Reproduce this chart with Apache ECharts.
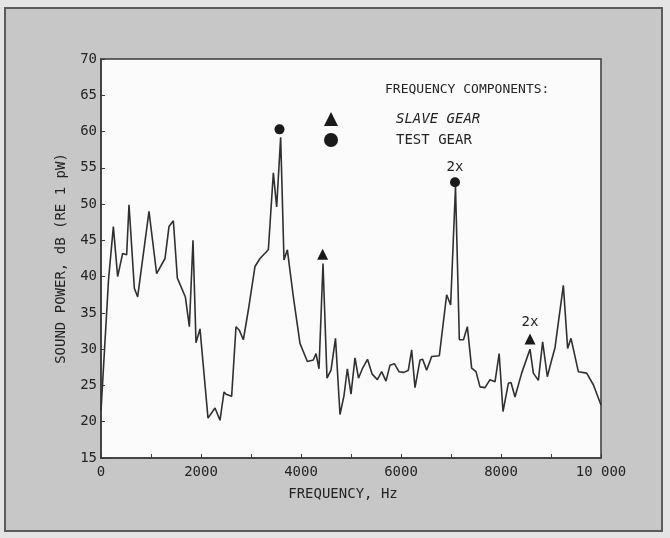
<!DOCTYPE html>
<html>
<head>
<meta charset="utf-8">
<script src="https://cdn.jsdelivr.net/npm/echarts@6/dist/echarts.min.js"></script>
<style>
  html, body { margin: 0; padding: 0; background: #e4e4e4; }
  #chart { width: 670px; height: 538px; }
</style>
</head>
<body>
<div id="chart"></div>
<script>
// Sound power spectrum of the gear pair, 0 - 10 000 Hz
const freqHz = [0, 150, 247, 333, 433, 513, 560, 667, 733, 960, 1113, 1280, 1360, 1447, 1527, 1687, 1767, 1840, 1900, 1980,
  2140, 2280, 2380, 2460, 2500, 2613, 2700, 2767, 2847, 2947, 3080, 3180, 3347, 3447, 3513, 3593, 3660, 3727, 3847, 3980,
  4127, 4247, 4300, 4360, 4440, 4520, 4600, 4690, 4780, 4860, 4927, 5000, 5080, 5150, 5233, 5330, 5420, 5527, 5613, 5700,
  5780, 5867, 5960, 6060, 6147, 6213, 6280, 6380, 6433, 6513, 6613, 6767, 6913, 6993, 7090, 7167, 7250, 7327, 7413, 7500,
  7580, 7680, 7780, 7880, 7963, 8040, 8147, 8200, 8280, 8413, 8580, 8647, 8747, 8833, 8927, 9013, 9080, 9247, 9333, 9400,
  9547, 9713, 9847, 10000];
const powerDb = [21.5, 39.5, 46.9, 40.0, 43.2, 43.0, 49.9, 38.4, 37.2, 49.0, 40.4, 42.5, 46.9, 47.7, 39.8, 37.2, 33.1, 45.0, 30.9, 32.8,
  20.5, 21.9, 20.2, 24.1, 23.8, 23.5, 33.1, 32.6, 31.3, 35.4, 41.4, 42.5, 43.7, 54.3, 49.6, 59.2, 42.3, 43.7, 37.2, 30.8,
  28.3, 28.5, 29.4, 27.3, 41.8, 26.0, 27.1, 31.5, 21.0, 23.6, 27.3, 23.8, 28.8, 26.0, 27.4, 28.6, 26.6, 25.8, 26.9, 25.6,
  27.8, 28.0, 26.9, 26.8, 27.1, 29.9, 24.7, 28.5, 28.6, 27.1, 29.0, 29.1, 37.5, 36.1, 52.4, 31.3, 31.3, 33.1, 27.4, 26.9,
  24.8, 24.7, 25.8, 25.5, 29.4, 21.4, 25.3, 25.4, 23.4, 26.7, 30.0, 26.7, 25.7, 31.0, 26.2, 28.5, 30.2, 38.8, 30.1, 31.5,
  26.9, 26.7, 25.1, 22.3];

// Frequency components marked above the peaks
const slaveGearHz = [4433, 8580];
const slaveGearDb = [43.1, 31.4];
const slaveGearTags = ['', '2x'];
const testGearHz = [3570, 7080];
const testGearDb = [60.3, 53.0];
const testGearTags = ['', '2x'];

// Axis ticks and labels
const xTickLabels = { 0: '0', 2000: '2000', 4000: '4000', 6000: '6000', 8000: '8000', 10000: '10 000' };
const yTicks = [15, 20, 25, 30, 35, 40, 45, 50, 55, 60, 65, 70];

const FONT = '"DejaVu Sans Mono", "Liberation Mono", monospace';
const INK = '#242424';

function pairs(xs, ys) { return xs.map((x, i) => [x, ys[i]]); }
function tagged(xs, ys, tags) { return xs.map((x, i) => ({ value: [x, ys[i]], tag: tags[i] })); }

const chart = echarts.init(document.getElementById('chart'));
chart.setOption({
  backgroundColor: '#e4e4e4',
  animation: false,
  textStyle: { fontFamily: FONT, color: INK },
  graphic: [{
    type: 'rect', z: -10, silent: true,
    shape: { x: 5, y: 8, width: 657, height: 523 },
    style: { fill: '#c7c7c7', stroke: '#5c5c5c', lineWidth: 2 }
  }],
  title: {
    text: 'FREQUENCY COMPONENTS:',
    left: 380, top: 78,
    textStyle: { fontFamily: FONT, fontSize: 13, fontWeight: 'normal', color: INK }
  },
  legend: {
    orient: 'vertical',
    left: 319, top: 107,
    itemGap: 7,
    itemWidth: 14, itemHeight: 14,
    data: [
      { name: 'SLAVE GEAR', icon: 'triangle' },
      { name: 'TEST GEAR', icon: 'circle' }
    ],
    formatter: name => name === 'SLAVE GEAR' ? '{it|' + name + '}' : '{up|' + name + '}',
    textStyle: {
      color: INK, fontFamily: FONT, fontSize: 14, padding: [0, 0, 0, 53],
      rich: {
        it: { fontStyle: 'italic', fontFamily: FONT, fontSize: 14, color: INK },
        up: { fontFamily: FONT, fontSize: 14, color: INK }
      }
    }
  },
  grid: {
    left: 101, top: 59, right: 69, bottom: 80,
    show: true, backgroundColor: '#fbfbfb', borderColor: '#3a3a3a', borderWidth: 1.5
  },
  xAxis: {
    type: 'value', min: 0, max: 10000, interval: 1000,
    name: 'FREQUENCY, Hz', nameLocation: 'middle', nameGap: 29,
    nameTextStyle: { fontFamily: FONT, fontSize: 14, color: INK, padding: [0, 16, 0, 0] },
    axisLine: { lineStyle: { color: '#3a3a3a', width: 1.5 } },
    axisTick: { inside: true, length: 4, lineStyle: { color: '#3a3a3a' } },
    splitLine: { show: false },
    axisLabel: {
      margin: 7, fontFamily: FONT, fontSize: 14, color: INK,
      formatter: v => (v in xTickLabels ? xTickLabels[v] : '')
    }
  },
  yAxis: {
    type: 'value', min: yTicks[0], max: yTicks[yTicks.length - 1], interval: 5,
    name: 'SOUND POWER, dB (RE 1 pW)', nameLocation: 'middle', nameGap: 33, nameRotate: 90,
    nameTextStyle: { fontFamily: FONT, fontSize: 14, color: INK },
    axisLine: { lineStyle: { color: '#3a3a3a', width: 1.5 } },
    axisTick: { inside: true, length: 4, lineStyle: { color: '#3a3a3a' } },
    splitLine: { show: false },
    axisLabel: { margin: 4, fontFamily: FONT, fontSize: 14, color: INK }
  },
  series: [
    {
      name: 'spectrum', type: 'line', data: pairs(freqHz, powerDb),
      showSymbol: false, symbol: 'none',
      lineStyle: { color: '#303030', width: 1.6 }, z: 2
    },
    {
      name: 'SLAVE GEAR', type: 'scatter', symbol: 'triangle', symbolSize: 11,
      itemStyle: { color: '#1a1a1a', opacity: 1 },
      data: tagged(slaveGearHz, slaveGearDb, slaveGearTags),
      label: {
        show: true, position: 'top', distance: 4,
        fontFamily: FONT, fontSize: 14, color: INK,
        formatter: p => p.data.tag
      }, z: 3
    },
    {
      name: 'TEST GEAR', type: 'scatter', symbol: 'circle', symbolSize: 10,
      itemStyle: { color: '#1a1a1a', opacity: 1 },
      data: tagged(testGearHz, testGearDb, testGearTags),
      label: {
        show: true, position: 'top', distance: 3,
        fontFamily: FONT, fontSize: 14, color: INK,
        formatter: p => p.data.tag
      }, z: 3
    }
  ]
});
</script>
</body>
</html>
